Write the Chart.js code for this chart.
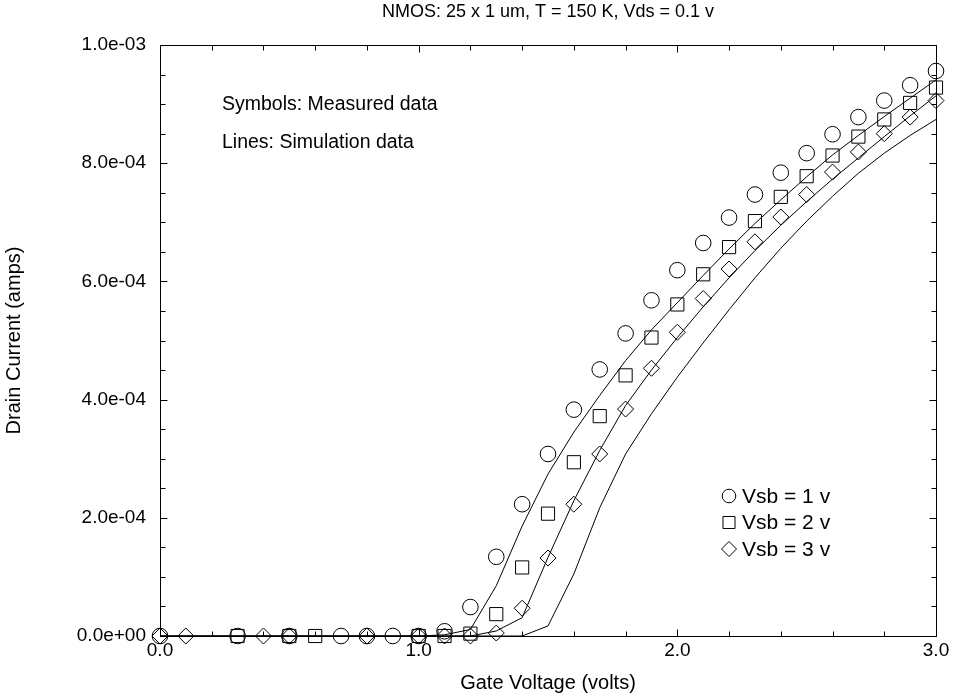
<!DOCTYPE html>
<html>
<head>
<meta charset="utf-8">
<script src="https://cdn.jsdelivr.net/npm/chart.js@4.4.0/dist/chart.umd.min.js"></script>
<style>
  body { margin: 0; background: #fff; }
  #wrap { width: 954px; height: 698px; }
</style>
</head>
<body>
<div id="wrap"><canvas id="chart"></canvas></div>
<script>
// drain current values are in units of 1e-4 A, gate voltage in volts
const vsb1Gate = [0.0, 0.3, 0.5, 0.7, 0.8, 0.9, 1.0, 1.1, 1.2, 1.3, 1.4, 1.5, 1.6, 1.7, 1.8, 1.9, 2.0, 2.1, 2.2, 2.3, 2.4, 2.5, 2.6, 2.7, 2.8, 2.9, 3.0]
const vsb1Meas = [0, 0, 0, 0, 0, 0, 0, 0.08, 0.49, 1.34, 2.23, 3.08, 3.83, 4.51, 5.12, 5.68, 6.19, 6.65, 7.08, 7.47, 7.84, 8.17, 8.49, 8.78, 9.06, 9.32, 9.56]

const vsb2Gate = [0.3, 0.5, 0.6, 1.0, 1.1, 1.2, 1.3, 1.4, 1.5, 1.6, 1.7, 1.8, 1.9, 2.0, 2.1, 2.2, 2.3, 2.4, 2.5, 2.6, 2.7, 2.8, 2.9, 3.0]
const vsb2Meas = [0, 0, 0, 0, 0, 0.04, 0.37, 1.16, 2.07, 2.94, 3.72, 4.41, 5.05, 5.61, 6.12, 6.58, 7.02, 7.43, 7.78, 8.13, 8.45, 8.74, 9.02, 9.28]

const vsb3Gate = [0.0, 0.1, 0.4, 0.5, 0.8, 1.0, 1.1, 1.2, 1.3, 1.4, 1.5, 1.6, 1.7, 1.8, 1.9, 2.0, 2.1, 2.2, 2.3, 2.4, 2.5, 2.6, 2.7, 2.8, 2.9, 3.0]
const vsb3Meas = [0, 0, 0, 0, 0, 0, 0, 0, 0.05, 0.47, 1.32, 2.23, 3.08, 3.84, 4.53, 5.14, 5.71, 6.21, 6.67, 7.09, 7.47, 7.85, 8.19, 8.50, 8.78, 9.06]

const simGate = [0.0, 0.1, 0.2, 0.3, 0.4, 0.5, 0.6, 0.7, 0.8, 0.9, 1.0, 1.1, 1.2, 1.3, 1.4, 1.5, 1.6, 1.7, 1.8, 1.9, 2.0, 2.1, 2.2, 2.3, 2.4, 2.5, 2.6, 2.7, 2.8, 2.9, 3.0]
const vsb1Sim = [0, 0, 0, 0, 0, 0, 0, 0, 0, 0, 0, 0.02, 0.11, 0.85, 1.86, 2.74, 3.45, 4.07, 4.66, 5.18, 5.64, 6.10, 6.55, 6.98, 7.38, 7.77, 8.14, 8.47, 8.79, 9.10, 9.41]
const vsb2Sim = [0, 0, 0, 0, 0, 0, 0, 0, 0, 0, 0, 0, 0, 0.085, 0.31, 1.33, 2.29, 3.14, 3.90, 4.50, 5.05, 5.57, 6.06, 6.52, 6.95, 7.35, 7.73, 8.09, 8.45, 8.80, 9.14]
const vsb3Sim = [0, 0, 0, 0, 0, 0, 0, 0, 0, 0, 0, 0, 0, 0, 0, 0.17, 1.05, 2.17, 3.08, 3.76, 4.38, 4.96, 5.52, 6.06, 6.56, 7.02, 7.44, 7.83, 8.17, 8.47, 8.74]

const legendLabels = ['Vsb = 1 v', 'Vsb = 2 v', 'Vsb = 3 v']
const notes = ['Symbols: Measured data', 'Lines: Simulation data']
const FONT = 'Arial, "Liberation Sans", Helvetica, sans-serif'

const pts = (xs, ys) => xs.map((v, i) => ({ x: v, y: ys[i] * 1e-4 }))

function fmtExp(v) {
  let s = v.toExponential(1)            // e.g. 8.0e-4
  return s.replace(/e([+-])(\d)$/, 'e$10$2')
}

// inward ticks on all four sides plus the box
const frameTicks = {
  id: 'frameTicks',
  afterDatasetsDraw(chart) {
    const { ctx, chartArea: a, scales: { x, y } } = chart
    const L = Math.round(a.left) + 0.5, R = Math.round(a.right) + 0.5
    const T = Math.round(a.top) + 0.5, B = Math.round(a.bottom) + 0.5
    ctx.save()
    ctx.strokeStyle = '#000'
    ctx.lineWidth = 1
    ctx.strokeRect(L, T, R - L, B - T)
    ctx.beginPath()
    for (let i = 0; i <= 15; i++) {
      const px = Math.round(x.getPixelForValue(i * 0.2)) + 0.5
      const len = i % 5 === 0 ? 7 : 5
      ctx.moveTo(px, B); ctx.lineTo(px, B - len)
      ctx.moveTo(px, T); ctx.lineTo(px, T + len)
    }
    for (let i = 0; i <= 20; i++) {
      const py = Math.round(y.getPixelForValue(i * 0.5e-4)) + 0.5
      const len = i % 4 === 0 ? 7 : 5
      ctx.moveTo(L, py); ctx.lineTo(L + len, py)
      ctx.moveTo(R, py); ctx.lineTo(R - len, py)
    }
    ctx.stroke()
    ctx.restore()
  },
  afterDraw(chart) {
    const { ctx, chartArea: a } = chart
    ctx.save()
    ctx.fillStyle = '#000'
    ctx.textBaseline = 'middle'
    ctx.textAlign = 'center'
    ctx.font = '18px ' + FONT
    ctx.fillText('NMOS: 25 x 1 um, T = 150 K, Vds = 0.1 v', (a.left + a.right) / 2, 12)

    ctx.textAlign = 'left'
    ctx.font = '19.5px ' + FONT
    ctx.fillText(notes[0], 222, 105)
    ctx.fillText(notes[1], 222, 143)

    // legend of measured symbols
    ctx.font = '21px ' + FONT
    const marks = chart.data.datasets.filter(d => d.legendIdx !== undefined)
    marks.forEach(d => {
      const yy = 496 + d.legendIdx * 26.5
      ctx.strokeStyle = '#000'
      ctx.fillStyle = 'rgba(0,0,0,0)'
      ctx.lineWidth = 1
      Chart.helpers.drawPoint(ctx, {
        pointStyle: d.pointStyle,
        radius: d.legendRadius,
        borderWidth: 1
      }, 729, yy)
      ctx.fillStyle = '#000'
      ctx.fillText(legendLabels[d.legendIdx], 742, yy + 1)
    })
    ctx.restore()
  }
}

const lineStyle = { showLine: true, pointRadius: 0, borderColor: '#000', borderWidth: 1, tension: 0 }
const markStyle = { showLine: false, borderColor: '#000', backgroundColor: 'rgba(0,0,0,0)', pointBorderWidth: 1, clip: false }

new Chart(document.getElementById('chart'), {
  type: 'scatter',
  data: {
    datasets: [
      { ...lineStyle, data: pts(simGate, vsb1Sim) },
      { ...lineStyle, data: pts(simGate, vsb2Sim) },
      { ...lineStyle, data: pts(simGate, vsb3Sim) },
      { ...markStyle, data: pts(vsb1Gate, vsb1Meas), pointStyle: 'circle', pointRadius: 7.8, legendIdx: 0, legendRadius: 6.8 },
      { ...markStyle, data: pts(vsb2Gate, vsb2Meas), pointStyle: 'rect', pointRadius: 9.3, legendIdx: 1, legendRadius: 8.5 },
      { ...markStyle, data: pts(vsb3Gate, vsb3Meas), pointStyle: 'rectRot', pointRadius: 8, legendIdx: 2, legendRadius: 7.5 }
    ]
  },
  options: {
    responsive: true,
    maintainAspectRatio: false,
    animation: false,
    layout: { padding: { left: 0, right: 18, top: 45, bottom: 0 } },
    plugins: {
      legend: { display: false },
      tooltip: { enabled: false },
      title: { display: false }
    },
    scales: {
      x: {
        type: 'linear',
        min: 0,
        max: 3,
        border: { display: false },
        grid: { display: false, drawTicks: false },
        ticks: {
          stepSize: 1,
          padding: 3,
          color: '#000',
          font: { family: FONT, size: 19 },
          callback: v => v.toFixed(1)
        },
        title: {
          display: true,
          text: 'Gate Voltage (volts)',
          color: '#000',
          font: { family: FONT, size: 20 },
          padding: { top: 0, bottom: 3 }
        },
        afterFit: s => { s.height = 62 }
      },
      y: {
        type: 'linear',
        min: 0,
        max: 1e-3,
        border: { display: false },
        grid: { display: false, drawTicks: false },
        ticks: {
          stepSize: 2e-4,
          padding: 14,
          color: '#000',
          font: { family: FONT, size: 19 },
          callback: v => fmtExp(v)
        },
        title: {
          display: true,
          text: 'Drain Current (amps)',
          color: '#000',
          font: { family: FONT, size: 20 },
          padding: { top: 2, bottom: 0 }
        },
        afterFit: s => { s.width = 160 }
      }
    }
  },
  plugins: [frameTicks]
})
</script>
</body>
</html>
